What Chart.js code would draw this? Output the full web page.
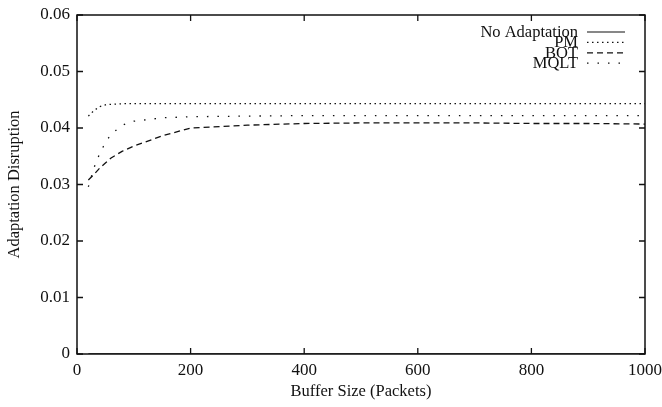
<!DOCTYPE html>
<html>
<head>
<meta charset="utf-8">
<script src="https://cdn.jsdelivr.net/npm/chart.js@4/dist/chart.umd.min.js"></script>
<style>
  html, body { margin: 0; padding: 0; background: #fff; }
  #wrap { width: 662px; height: 407px; }
</style>
</head>
<body>
<div id="wrap"><canvas id="chart" width="662" height="407"></canvas></div>
<script>
const BUFFER_SIZES = [20, 30, 40, 50, 60, 80, 100, 150, 200, 300, 400, 500, 600, 700, 800, 900, 1000];
const NO_ADAPTATION = [0, 0, 0, 0, 0, 0, 0, 0, 0, 0, 0, 0, 0, 0, 0, 0, 0];
const PM = [0.0421, 0.0431, 0.0438, 0.0441, 0.0442, 0.0443, 0.0443, 0.0443, 0.0443, 0.0443, 0.0443, 0.0443, 0.0443, 0.0443, 0.0443, 0.0443, 0.0443];
const BOT = [0.0308, 0.0318, 0.0329, 0.0338, 0.0347, 0.0359, 0.0368, 0.0386, 0.0400, 0.0405, 0.0408, 0.0409, 0.0409, 0.0409, 0.0408, 0.0408, 0.0407];
const MQLT = [0.0296, 0.0330, 0.0355, 0.0374, 0.0389, 0.0405, 0.0412, 0.0418, 0.0420, 0.0421, 0.0422, 0.0422, 0.0422, 0.0422, 0.0422, 0.0422, 0.0422];
const X_TICKS = [0, 200, 400, 600, 800, 1000];
const Y_TICKS = [0, 0.01, 0.02, 0.03, 0.04, 0.05, 0.06];

const FONT = "'Liberation Serif', 'Times New Roman', serif";
const INK = "#111";

function points(values) {
  return BUFFER_SIZES.map((x, i) => ({ x, y: values[i] }));
}

function series(label, values, dash) {
  return {
    label,
    data: points(values),
    borderColor: INK,
    borderWidth: 1.3,
    borderDash: dash,
    pointRadius: 0,
    tension: 0,
    fill: false
  };
}

// gnuplot style frame, inward ticks on all four sides, and the key in the top right
const framePlugin = {
  id: "frame",
  afterDatasetsDraw(chart) {
    const { ctx, chartArea: a, scales } = chart;
    ctx.save();
    ctx.strokeStyle = INK;
    ctx.lineWidth = 1.5;
    ctx.strokeRect(a.left, a.top, a.right - a.left, a.bottom - a.top);

    ctx.lineWidth = 1.3;
    const len = 6;
    ctx.beginPath();
    for (const v of X_TICKS) {
      const px = scales.x.getPixelForValue(v);
      ctx.moveTo(px, a.bottom);
      ctx.lineTo(px, a.bottom - len);
      ctx.moveTo(px, a.top);
      ctx.lineTo(px, a.top + len);
    }
    for (const v of Y_TICKS) {
      const py = scales.y.getPixelForValue(v);
      ctx.moveTo(a.left, py);
      ctx.lineTo(a.left + len, py);
      ctx.moveTo(a.right, py);
      ctx.lineTo(a.right - len, py);
    }
    ctx.stroke();

    ctx.font = `16.5px ${FONT}`;
    ctx.fillStyle = INK;
    ctx.textAlign = "right";
    ctx.textBaseline = "alphabetic";
    chart.data.datasets.forEach((ds, i) => {
      const base = a.top + 22 + i * 10.4;
      ctx.fillText(ds.label, 578, base);
      ctx.setLineDash(ds.borderDash || []);
      ctx.lineWidth = 1.2;
      ctx.beginPath();
      ctx.moveTo(587, base - 5);
      ctx.lineTo(625, base - 5);
      ctx.stroke();
    });
    ctx.restore();
  }
};

new Chart(document.getElementById("chart"), {
  type: "line",
  data: {
    datasets: [
      series("No Adaptation", NO_ADAPTATION, []),
      series("PM", PM, [1.5, 3.5]),
      series("BOT", BOT, [6, 4]),
      series("MQLT", MQLT, [1.5, 9])
    ]
  },
  options: {
    responsive: false,
    animation: false,
    layout: { padding: { top: 15, right: 17, left: 0, bottom: 0 } },
    plugins: { legend: { display: false }, tooltip: { enabled: false } },
    scales: {
      x: {
        type: "linear",
        min: 0,
        max: 1000,
        afterBuildTicks: (scale) => { scale.ticks = X_TICKS.map((value) => ({ value })); },
        afterFit: (scale) => {
          scale.height = 53;
          scale.paddingLeft = 0;
          scale.paddingRight = 0;
        },
        ticks: {
          color: INK,
          font: { family: FONT, size: 17 },
          padding: 6,
          maxRotation: 0,
          callback: (value) => String(value)
        },
        grid: { display: false, drawTicks: false },
        border: { display: false },
        title: {
          display: true,
          text: "Buffer Size (Packets)",
          color: INK,
          font: { family: FONT, size: 16.5 },
          padding: { top: 0, bottom: 5 }
        }
      },
      y: {
        min: 0,
        max: 0.06,
        afterBuildTicks: (scale) => { scale.ticks = Y_TICKS.map((value) => ({ value })); },
        afterFit: (scale) => {
          scale.width = 77;
          scale.paddingTop = 0;
          scale.paddingBottom = 0;
        },
        ticks: {
          color: INK,
          font: { family: FONT, size: 17 },
          padding: 7,
          callback: (value) => (value === 0 ? "0" : value.toFixed(2))
        },
        grid: { display: false, drawTicks: false },
        border: { display: false },
        title: {
          display: true,
          text: "Adaptation Disruption",
          color: INK,
          font: { family: FONT, size: 16.5 },
          padding: { top: 5, bottom: 0 }
        }
      }
    }
  },
  plugins: [framePlugin]
});
</script>
</body>
</html>
